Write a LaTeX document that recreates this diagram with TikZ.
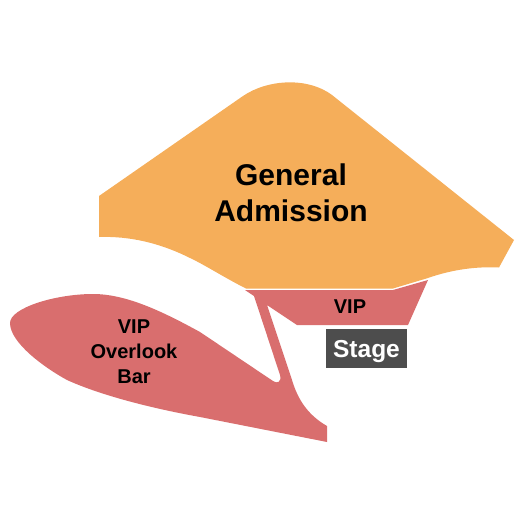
\documentclass[tikz,border=0pt]{standalone}
\usepackage{fontspec}
\setmainfont{Liberation Sans}
\definecolor{ga}{HTML}{F5AE5A}
\definecolor{vip}{HTML}{D96E6E}
\definecolor{stg}{HTML}{4D4D4D}
\tikzset{lab/.style 2 args={font=\bfseries\fontsize{#1}{#2}\selectfont,align=center,inner sep=0pt}}
\begin{document}
\begin{tikzpicture}[x=1pt,y=-1pt]
\useasboundingbox (0,0) rectangle (525,525);
\fill[ga] (99,196) -- (243,96) .. controls (268,79) and (308,77) .. (332,95)
  -- (514,240) -- (499,267.5) .. controls (470,266) and (445,272) .. (428,278)
  -- (393,288.5) -- (246,288.5) .. controls (225,278) and (205,265) .. (190,258)
  .. controls (160,243) and (130,236) .. (99,237) -- cycle;
\fill[vip] (245,290) -- (393,290) -- (428,280) -- (408,325) -- (297,325) -- (267,305)
  -- (292,380) .. controls (298,400) and (308,415) .. (327,426) -- (327,442)
  -- (200,417) .. controls (150,408) and (100,395) .. (67,380)
  .. controls (45,368) and (10,343) .. (10,323)
  .. controls (10,308) and (55,294) .. (93,294)
  .. controls (125,294) and (160,310) .. (200,332)
  -- (273,381) .. controls (277,384) and (282,382) .. (280,375)
  -- (254,296) -- cycle;
\fill[stg] (326,329) rectangle (407,368);
\node[lab={30}{36}] (ga) at (291,192.5) {General\\Admission};
\node[lab={20}{26}] (v) at (350,307) {VIP};
\node[lab={24.5}{26},text=white] (s) at (366.5,352) {Stage};
\node[lab={20}{25}] (o) at (134,352) {VIP\\Overlook\\Bar};
\end{tikzpicture}
\end{document}
